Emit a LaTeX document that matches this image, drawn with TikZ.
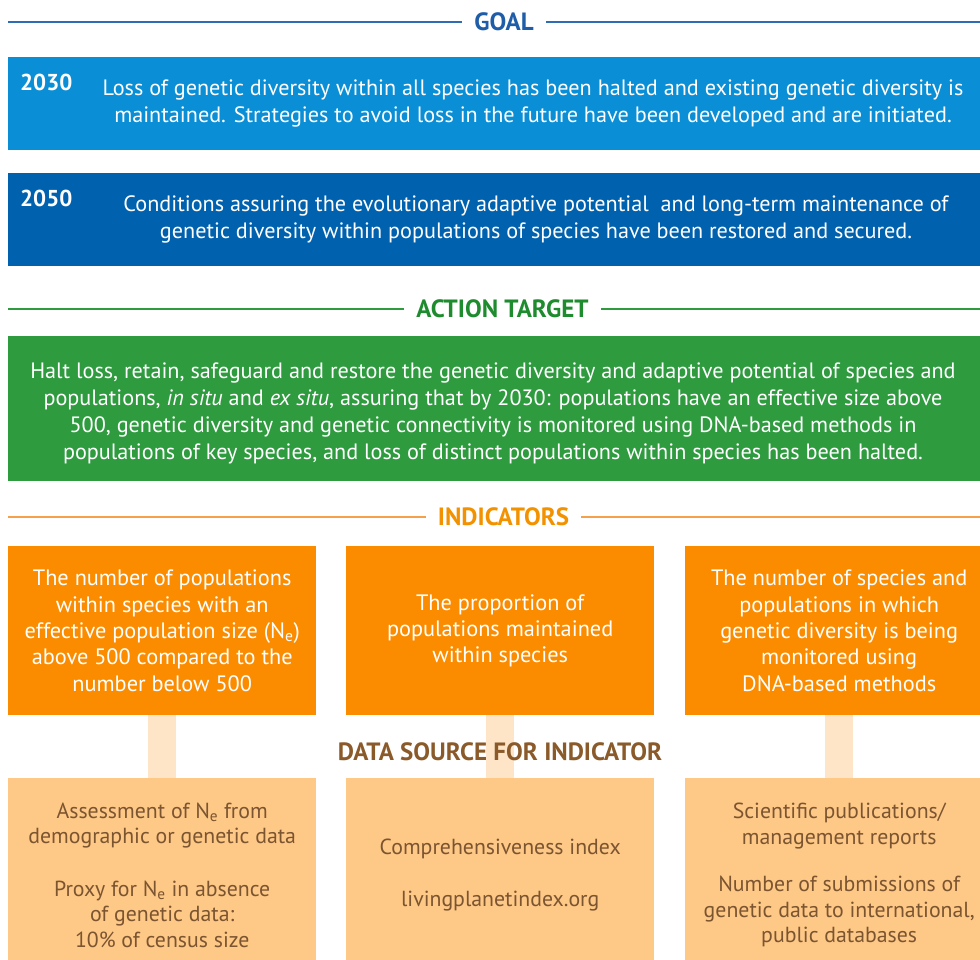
\documentclass[tikz,border=0pt]{standalone}
\usepackage{fontspec}
\setmainfont{PT Sans}
\definecolor{goalblue}{HTML}{1F5DA8}
\definecolor{goalline}{HTML}{2E6DB4}
\definecolor{lightblue}{HTML}{0A8FD6}
\definecolor{darkblue}{HTML}{0062AE}
\definecolor{actgreen}{HTML}{2F9B3F}
\definecolor{actgreentxt}{HTML}{1E8C2E}
\definecolor{indorange}{HTML}{FB8C00}
\definecolor{indtxt}{HTML}{F39200}
\definecolor{indline}{HTML}{F5A04A}
\definecolor{dsfill}{HTML}{FEC887}
\definecolor{connfill}{HTML}{FFE5C7}
\definecolor{dstxt}{HTML}{7B5430}
\definecolor{dshead}{HTML}{8A5A2A}
\begin{document}
\begin{tikzpicture}[x=1pt,y=-1pt,
  hdr/.style={font=\fontsize{25}{28}\selectfont\bfseries, inner ysep=0pt, inner xsep=12pt},
  hline/.style={line width=1.5pt},
  band/.style={draw=none, anchor=north west, inner sep=0pt},
  yearlbl/.style={text=white, font=\fontsize{23}{26}\selectfont\bfseries, inner sep=0pt},
  toptext/.style={text=white, align=center, inner sep=0pt, font=\fontsize{22.2}{27}\selectfont},
  indbox/.style={fill=indorange, text=white, anchor=north west, inner sep=0pt,
     minimum width=308pt, minimum height=169pt, align=center, font=\fontsize{22.3}{26.3}\selectfont},
  dsbox/.style={fill=dsfill, text=dstxt, anchor=north west, inner sep=0pt,
     minimum width=308pt, minimum height=194pt, align=center, font=\fontsize{21.8}{25.5}\selectfont},
  connector/.style={draw=connfill, line width=28pt}
]
\useasboundingbox (0,0) rectangle (980,960);
\clip (0,0) rectangle (980,960);

% GOAL header
\node[hdr, text=goalblue] (goal) at (504,22) {GOAL};
\coordinate (goalL) at (8,22);
\coordinate (goalR) at (980,22);
\draw[hline, goalline] (goalL) -- (goal.west);
\draw[hline, goalline] (goal.east) -- (goalR);

% 2030 band
\node[band, fill=lightblue, minimum width=990pt, minimum height=93pt] (b2030) at (8,57) {};
\node[yearlbl, anchor=west] (y2030) at (20,82) {2030};
\node[toptext] (t2030) at (533,103) {Loss of genetic diversity within all species has been halted and existing genetic diversity is\\maintained. Strategies to avoid loss in the future have been developed and are initiated.};

% 2050 band
\node[band, fill=darkblue, minimum width=990pt, minimum height=93pt] (b2050) at (8,173) {};
\node[yearlbl, anchor=west] (y2050) at (20,198) {2050};
\node[toptext] (t2050) at (536,219) {Conditions assuring the evolutionary adaptive potential\ \ and long-term maintenance of\\genetic diversity within populations of species have been restored and secured.};

% ACTION TARGET header
\node[hdr, text=actgreentxt] (act) at (502.5,309) {ACTION TARGET};
\coordinate (actL) at (8,309);
\coordinate (actR) at (980,309);
\draw[hline, actgreen] (actL) -- (act.west);
\draw[hline, actgreen] (act.east) -- (actR);

% Action target band
\node[band, fill=actgreen, minimum width=990pt, minimum height=145pt] (bact) at (8,336) {};
\node[toptext] (tact) at (493,413) {Halt loss, retain, safeguard and restore the genetic diversity and adaptive potential of species and\\populations, \textit{in situ} and \textit{ex situ}, assuring that by 2030: populations have an effective size above\\500, genetic diversity and genetic connectivity is monitored using DNA-based methods in\\populations of key species, and loss of distinct populations within species has been halted.};

% INDICATORS header
\node[hdr, text=indtxt] (ind) at (503.5,517) {INDICATORS};
\coordinate (indL) at (8,517);
\coordinate (indR) at (980,517);
\draw[hline, indline] (indL) -- (ind.west);
\draw[hline, indline] (ind.east) -- (indR);

% Indicator boxes
\node[indbox] (i1) at (8,546) {The number of populations\\within species with an\\effective population size (N\textsubscript{e})\\above 500 compared to the\\number below 500};
\node[indbox] (i2) at (346,546) {The proportion of\\populations maintained\\within species};
\node[indbox] (i3) at (685,546) {The number of species and\\populations in which\\genetic diversity is being\\monitored using\\DNA-based methods};

% Data source boxes
\node[dsbox] (d1) at (8,778) {Assessment of N\textsubscript{e} from\\demographic or genetic data\\[27pt]Proxy for N\textsubscript{e} in absence\\of genetic data:\\10\% of census size};
\node[dsbox] (d2) at (346,778) {Comprehensiveness index\\[26pt]livingplanetindex.org};
\node[dsbox] (d3) at (685,778) {Scientific publications/\\management reports\\[22pt]Number of submissions of\\genetic data to international,\\public databases};

% connectors
\draw[connector] (i1.south) -- (d1.north);
\draw[connector] (i2.south) -- (d2.north);
\draw[connector] (i3.south) -- (d3.north);

% Data source header
\node[text=dshead, font=\fontsize{25}{28}\selectfont\bfseries, inner sep=0pt] (dsh) at (500,752) {DATA SOURCE FOR INDICATOR};
\end{tikzpicture}
\end{document}
